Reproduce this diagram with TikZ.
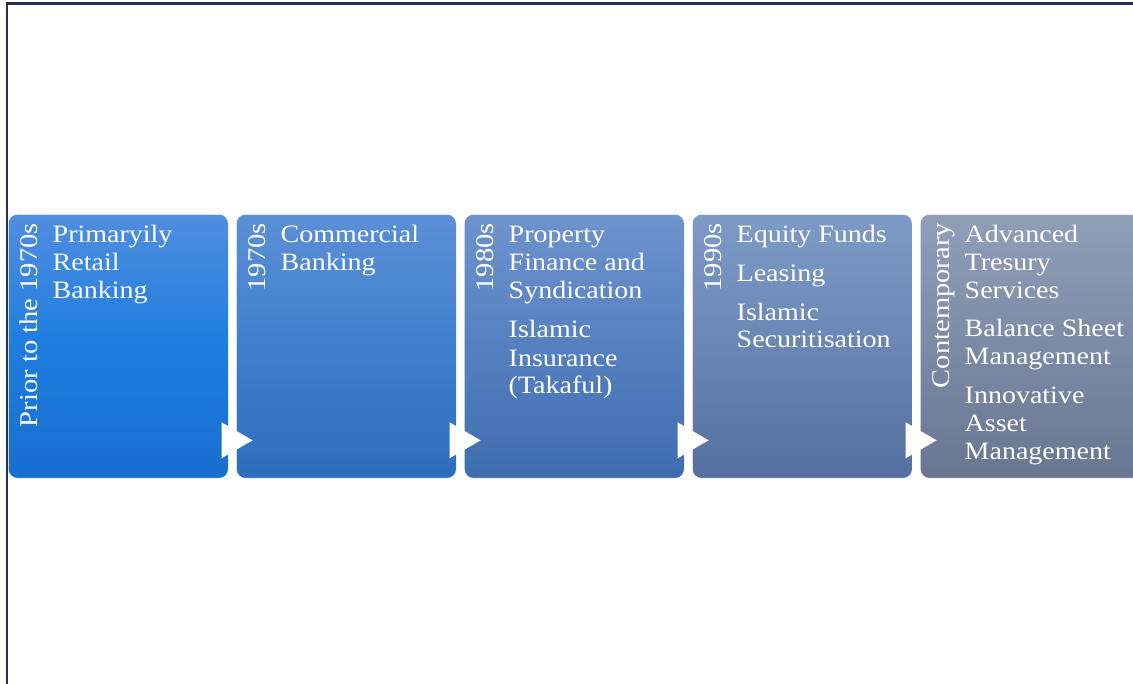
\documentclass[tikz,border=0pt]{standalone}
\usepackage{fontspec}
\setmainfont{Liberation Serif}[FakeStretch=1.12]
\usetikzlibrary{calc}
\definecolor{frame}{RGB}{38,45,90}
\definecolor{aT}{RGB}{80,142,224}\definecolor{aM}{RGB}{30,125,222}\definecolor{aB}{RGB}{25,110,208}
\definecolor{bT}{RGB}{92,143,214}\definecolor{bM}{RGB}{62,128,205}\definecolor{bB}{RGB}{44,110,190}
\definecolor{cT}{RGB}{110,147,205}\definecolor{cM}{RGB}{85,128,192}\definecolor{cB}{RGB}{62,110,175}
\definecolor{dT}{RGB}{126,155,200}\definecolor{dM}{RGB}{105,134,180}\definecolor{dB}{RGB}{85,112,160}
\definecolor{eT}{RGB}{145,158,184}\definecolor{eM}{RGB}{125,138,165}\definecolor{eB}{RGB}{105,118,145}
\newcommand\itline[4]{\node[itemtext] (#1) at ([xshift=44.5pt,yshift=-#3pt]#2.north west) {#4};}
\newcommand\eralabel[3]{\node[era] (#1) at ([xshift=29pt,yshift=-9pt]#2.north west) {#3};}
\newcommand\chev[1]{\fill[white] ([xshift=-7pt,yshift=-76pt]#1.east) -- ([xshift=24pt,yshift=-94pt]#1.east) -- ([xshift=-7pt,yshift=-112pt]#1.east) -- cycle;}
\tikzset{
  panel/.style={draw=white, line width=0.6pt, rounded corners=9pt, minimum width=220pt, minimum height=264pt, inner sep=0pt, anchor=north west},
  era/.style={rotate=90, anchor=base east, inner sep=0pt, text=white, font=\fontsize{25.5}{28}\selectfont},
  itemtext/.style={anchor=base west, inner sep=0pt, text=white, font=\fontsize{25}{28}\selectfont},
}
\begin{document}
\begin{tikzpicture}[x=1pt,y=-1pt]
\useasboundingbox (0,0) rectangle (1133,684);
\fill[white] (0,0) rectangle (1133,684);
\draw[frame, line width=2.2pt] (7,684) -- (7,3.5) -- (1140,3.5);
% panels
\node[panel, top color=aT, bottom color=aB, middle color=aM] (b1) at (8,214) {};
\node[panel, top color=bT, bottom color=bB, middle color=bM] (b2) at (236,214) {};
\node[panel, top color=cT, bottom color=cB, middle color=cM] (b3) at (464,214) {};
\node[panel, top color=dT, bottom color=dB, middle color=dM] (b4) at (692,214) {};
\node[panel, top color=eT, bottom color=eB, middle color=eM] (b5) at (920,214) {};
% chevrons
\chev{b1}\chev{b2}\chev{b3}\chev{b4}
% era labels
\eralabel{e1}{b1}{Prior to the 1970s}
\eralabel{e2}{b2}{1970s}
\eralabel{e3}{b3}{1980s}
\eralabel{e4}{b4}{1990s}
\eralabel{e5}{b5}{Contemporary}
% items
\itline{t11}{b1}{29}{Primaryily}
\itline{t12}{b1}{57}{Retail}
\itline{t13}{b1}{84.5}{Banking}
\itline{t21}{b2}{29}{Commercial}
\itline{t22}{b2}{57}{Banking}
\itline{t31}{b3}{29}{Property}
\itline{t32}{b3}{57}{Finance and}
\itline{t33}{b3}{84.5}{Syndication}
\itline{t34}{b3}{124}{Islamic}
\itline{t35}{b3}{152.5}{Insurance}
\itline{t36}{b3}{180}{(Takaful)}
\itline{t41}{b4}{29}{Equity Funds}
\itline{t42}{b4}{68}{Leasing}
\itline{t43}{b4}{106.5}{Islamic}
\itline{t44}{b4}{134}{Securitisation}
\itline{t51}{b5}{29}{Advanced}
\itline{t52}{b5}{57}{Tresury}
\itline{t53}{b5}{84.5}{Services}
\itline{t54}{b5}{123}{Balance Sheet}
\itline{t55}{b5}{151}{Management}
\itline{t56}{b5}{189.5}{Innovative}
\itline{t57}{b5}{217.5}{Asset}
\itline{t58}{b5}{245.5}{Management}
\end{tikzpicture}
\end{document}
